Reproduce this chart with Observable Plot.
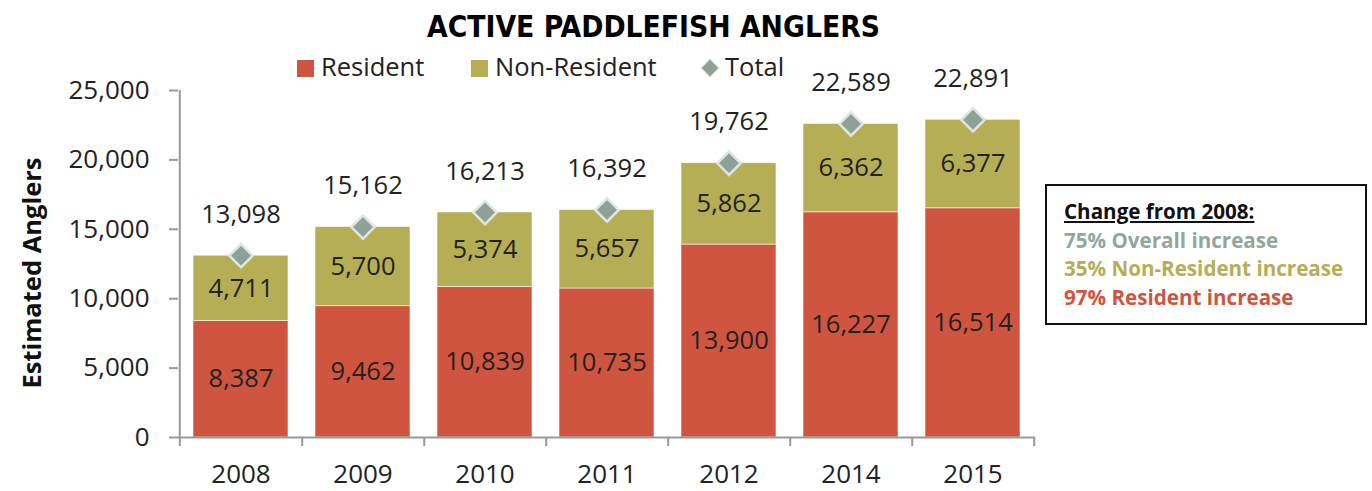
<!DOCTYPE html>
<html>
<head>
<meta charset="utf-8">
<script src="https://cdn.jsdelivr.net/npm/d3@7"></script>
<script src="https://cdn.jsdelivr.net/npm/@observablehq/plot@0.6"></script>
<style>
  html, body { margin: 0; padding: 0; background: #fff; }
  #wrap { position: relative; width: 1372px; height: 491px; font-family: "Open Sans", sans-serif; color: #222; overflow: hidden; }
  #chart { position: absolute; left: 0; top: 0; }
  .abs { position: absolute; white-space: nowrap; }
  #title { left: 0; top: 0; }
  .leg { font-size: 25.5px; line-height: 26px; color: #222; }
  .sw { width: 17px; height: 17px; }
  #ylabel { font-size: 25.5px; font-weight: 700; color: #111; transform: translate(-50%, -50%) rotate(-90deg); left: 31px; top: 273px; }
  #box { left: 1045px; top: 184px; width: 318px; height: 137px; border: 2px solid #111; box-sizing: content-box; font-weight: 700; font-size: 20.6px; line-height: 28.5px; padding: 0; }
  #box div { position: absolute; left: 17px; }
</style>
</head>
<body>
<div id="wrap"></div>
<script>
const years = ["2008", "2009", "2010", "2011", "2012", "2014", "2015"];
const resident = [8387, 9462, 10839, 10735, 13900, 16227, 16514];
const nonResident = [4711, 5700, 5374, 5657, 5862, 6362, 6377];
const totals = [13098, 15162, 16213, 16392, 19762, 22589, 22891];
const seriesNames = ["Resident", "Non-Resident"];
const seriesColors = ["#cf5540", "#b5ae55"];
const totalColor = "#8fa197";
const yTicks = [0, 5000, 10000, 15000, 20000, 25000];
const titleText = "ACTIVE PADDLEFISH ANGLERS";
const yLabel = "Estimated Anglers";
const boxLines = [
  {text: "Change from 2008:", color: "#111", underline: true},
  {text: "75% Overall increase", color: "#94a59c"},
  {text: "35% Non-Resident increase", color: "#b5ae55"},
  {text: "97% Resident increase", color: "#cf5540"}
];

const fmt = d3.format(",");
const long = [
  ...years.map((y, i) => ({year: y, type: seriesNames[0], value: resident[i]})),
  ...years.map((y, i) => ({year: y, type: seriesNames[1], value: nonResident[i]}))
];

const W = 1372, H = 491, mL = 178, mR = 337, mT = 90, mB = 54;
const step = (W - mL - mR) / years.length;

const plot = Plot.plot({
  width: W, height: H,
  marginLeft: mL, marginRight: mR, marginTop: mT, marginBottom: mB,
  style: {fontFamily: "Open Sans, sans-serif", color: "#222", background: "transparent"},
  x: {domain: years, paddingInner: 0.22, paddingOuter: 0.11, label: null},
  y: {domain: [0, 25000], label: null},
  color: {domain: seriesNames, range: seriesColors},
  marks: [
    Plot.barY(long, {x: "year", y: "value", fill: "type", stroke: "#fff", strokeWidth: 0.8, strokeOpacity: 0.7}),
    Plot.textY(long, Plot.stackY({x: "year", y: "value", z: "type", text: d => fmt(d.value), fontSize: 25.5, fill: "#222"})),
    Plot.ruleY([0], {stroke: "#999", strokeWidth: 2}),
    Plot.ruleX([years[0]], {dx: -step / 2, y1: 0, y2: 25000, stroke: "#999", strokeWidth: 2}),
    Plot.ruleX([years[0]], {dx: -step / 2, y1: 0, y2: 0, insetBottom: -9, stroke: "#999", strokeWidth: 2}),
    Plot.ruleX(years, {dx: step / 2, y1: 0, y2: 0, insetBottom: -9, stroke: "#999", strokeWidth: 2}),
    Plot.axisY({ticks: yTicks, tickSize: 9, tickPadding: 20, tickFormat: fmt, fontSize: 26, stroke: "#999", strokeWidth: 2, fill: "#222", label: null}),
    Plot.axisX({tickSize: 0, tickPadding: 27, fontSize: 26, fill: "#222", label: null}),
    Plot.dot(totals, {x: (d, i) => years[i], y: d => d, symbol: "diamond2", r: 10.5, fill: totalColor, stroke: "#dde6e0", strokeWidth: 2.5}),
    Plot.text(totals, {x: (d, i) => years[i], y: d => d, text: d => fmt(d), dy: -41, fontSize: 25.5, fill: "#222"})
  ]
});
plot.id = "chart";
const wrap = document.getElementById("wrap");
wrap.appendChild(plot);

// Title
const ns = "http://www.w3.org/2000/svg";
const tsvg = document.createElementNS(ns, "svg");
tsvg.setAttribute("width", W); tsvg.setAttribute("height", 48);
tsvg.setAttribute("id", "title"); tsvg.setAttribute("class", "abs");
const tt = document.createElementNS(ns, "text");
tt.setAttribute("x", 427); tt.setAttribute("y", 37);
tt.setAttribute("textLength", 453); tt.setAttribute("lengthAdjust", "spacingAndGlyphs");
tt.setAttribute("style", "font-family:'Liberation Sans Narrow','DejaVu Sans Condensed',sans-serif;font-weight:700;font-size:31px;fill:#000");
tt.textContent = titleText;
tsvg.appendChild(tt);
wrap.appendChild(tsvg);

// Legend
function add(html, cls, left, top, style) {
  const d = document.createElement("div");
  d.className = "abs " + cls;
  d.style.left = left + "px"; d.style.top = top + "px";
  if (style) Object.assign(d.style, style);
  d.innerHTML = html;
  wrap.appendChild(d);
  return d;
}
add("", "sw", 297, 60, {background: seriesColors[0]});
add(seriesNames[0], "leg", 321, 53);
add("", "sw", 471, 60, {background: seriesColors[1]});
add(seriesNames[1], "leg", 495, 53);
add("", "", 704, 62, {width: "12px", height: "12px", background: totalColor, transform: "rotate(45deg)", outline: "1.5px solid #dde6e0"});
add("Total", "leg", 725, 53);

// Y label
add(yLabel, "", 31, 273, {}).id = "ylabel";

// Box
const box = add("", "", 1045, 184);
box.id = "box";
boxLines.forEach((l, i) => {
  const d = document.createElement("div");
  d.textContent = l.text;
  d.style.top = (11 + i * 28.5) + "px";
  d.style.color = l.color;
  if (l.underline) d.style.textDecoration = "underline";
  box.appendChild(d);
});
</script>
</body>
</html>
